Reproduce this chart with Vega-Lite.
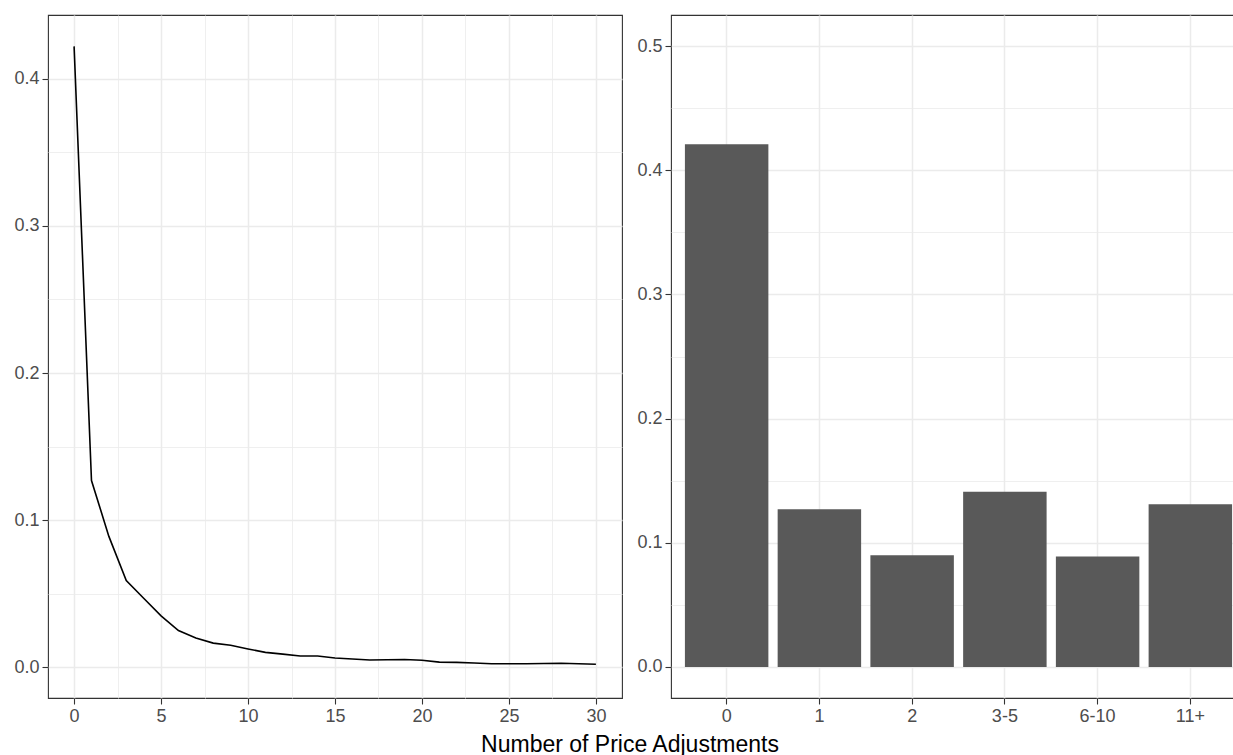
{
  "$schema": "https://vega.github.io/schema/vega-lite/v6.json",
  "background": "white",
  "padding": {"left": 13, "top": 14, "right": 0, "bottom": 0},
  "config": {
    "font": "Liberation Sans",
    "view": {"stroke": "#333333", "strokeWidth": 1.1},
    "axis": {
      "domain": false,
      "title": null,
      "labelFont": "Liberation Sans",
      "labelFontSize": 18,
      "labelColor": "#4D4D4D",
      "labelPadding": 3,
      "labelFlush": false,
      "labelOverlap": false,
      "tickColor": "#333333",
      "tickSize": 6,
      "tickWidth": 1.1,
      "grid": true,
      "gridColor": "#EBEBEB"
    },
    "concat": {"spacing": 13}
  },
  "title": {
    "text": "Number of Price Adjustments",
    "orient": "bottom",
    "anchor": "middle",
    "frame": "bounds",
    "font": "Liberation Sans",
    "fontSize": 23,
    "fontWeight": "normal",
    "color": "black",
    "offset": 8
  },
  "hconcat": [
    {
      "width": 574,
      "height": 683,
      "data": {
        "values": [
          {"adjustments": 0, "share": 0.422},
          {"adjustments": 1, "share": 0.127},
          {"adjustments": 2, "share": 0.089},
          {"adjustments": 3, "share": 0.059},
          {"adjustments": 4, "share": 0.047},
          {"adjustments": 5, "share": 0.035},
          {"adjustments": 6, "share": 0.025},
          {"adjustments": 7, "share": 0.02},
          {"adjustments": 8, "share": 0.0165},
          {"adjustments": 9, "share": 0.015},
          {"adjustments": 10, "share": 0.0125},
          {"adjustments": 11, "share": 0.0102},
          {"adjustments": 12, "share": 0.009},
          {"adjustments": 13, "share": 0.0077},
          {"adjustments": 14, "share": 0.0077},
          {"adjustments": 15, "share": 0.0064},
          {"adjustments": 16, "share": 0.0057},
          {"adjustments": 17, "share": 0.005},
          {"adjustments": 18, "share": 0.0052},
          {"adjustments": 19, "share": 0.0054},
          {"adjustments": 20, "share": 0.0048},
          {"adjustments": 21, "share": 0.0036},
          {"adjustments": 22, "share": 0.0034},
          {"adjustments": 23, "share": 0.003},
          {"adjustments": 24, "share": 0.0025},
          {"adjustments": 25, "share": 0.0025},
          {"adjustments": 26, "share": 0.0025},
          {"adjustments": 27, "share": 0.0026},
          {"adjustments": 28, "share": 0.0028},
          {"adjustments": 29, "share": 0.0025},
          {"adjustments": 30, "share": 0.0021}
        ]
      },
      "mark": {"type": "line", "color": "black", "strokeWidth": 1.6},
      "encoding": {
        "x": {
          "field": "adjustments",
          "type": "quantitative",
          "scale": {"domain": [-1.5, 31.5], "nice": false, "zero": false},
          "axis": {
            "values": [0, 2.5, 5, 7.5, 10, 12.5, 15, 17.5, 20, 22.5, 25, 27.5, 30],
            "labelExpr": "datum.value % 5 === 0 ? datum.label : ''",
            "tickOpacity": {"condition": {"test": "datum.value % 5 !== 0", "value": 0}, "value": 1},
            "gridWidth": {"condition": {"test": "datum.value % 5 !== 0", "value": 0.8}, "value": 1.5}
          }
        },
        "y": {
          "field": "share",
          "type": "quantitative",
          "scale": {"domain": [-0.0208, 0.4433], "nice": false, "zero": false},
          "axis": {
            "values": [0, 0.05, 0.1, 0.15, 0.2, 0.25, 0.3, 0.35, 0.4],
            "format": ".1f",
            "labelExpr": "abs(datum.value * 10 - round(datum.value * 10)) > 0.01 ? '' : datum.label",
            "tickOpacity": {"condition": {"test": "abs(datum.value * 10 - round(datum.value * 10)) > 0.01", "value": 0}, "value": 1},
            "gridWidth": {"condition": {"test": "abs(datum.value * 10 - round(datum.value * 10)) > 0.01", "value": 0.8}, "value": 1.5}
          }
        }
      }
    },
    {
      "width": 575,
      "height": 683,
      "data": {
        "values": [
          {"group": "0", "share": 0.421},
          {"group": "1", "share": 0.127},
          {"group": "2", "share": 0.09},
          {"group": "3-5", "share": 0.141},
          {"group": "6-10", "share": 0.089},
          {"group": "11+", "share": 0.131}
        ]
      },
      "mark": {"type": "bar", "color": "#595959"},
      "encoding": {
        "x": {
          "field": "group",
          "type": "nominal",
          "sort": null,
          "scale": {"paddingInner": 0.1, "paddingOuter": 0.15},
          "axis": {"labelAngle": 0, "bandPosition": 0.5, "grid": true, "gridWidth": 1.5}
        },
        "y": {
          "field": "share",
          "type": "quantitative",
          "scale": {"domain": [-0.025, 0.525], "nice": false, "zero": false},
          "axis": {
            "values": [0, 0.05, 0.1, 0.15, 0.2, 0.25, 0.3, 0.35, 0.4, 0.45, 0.5],
            "format": ".1f",
            "labelExpr": "abs(datum.value * 10 - round(datum.value * 10)) > 0.01 ? '' : datum.label",
            "tickOpacity": {"condition": {"test": "abs(datum.value * 10 - round(datum.value * 10)) > 0.01", "value": 0}, "value": 1},
            "gridWidth": {"condition": {"test": "abs(datum.value * 10 - round(datum.value * 10)) > 0.01", "value": 0.8}, "value": 1.5}
          }
        },
        "y2": {"datum": 0}
      }
    }
  ]
}
